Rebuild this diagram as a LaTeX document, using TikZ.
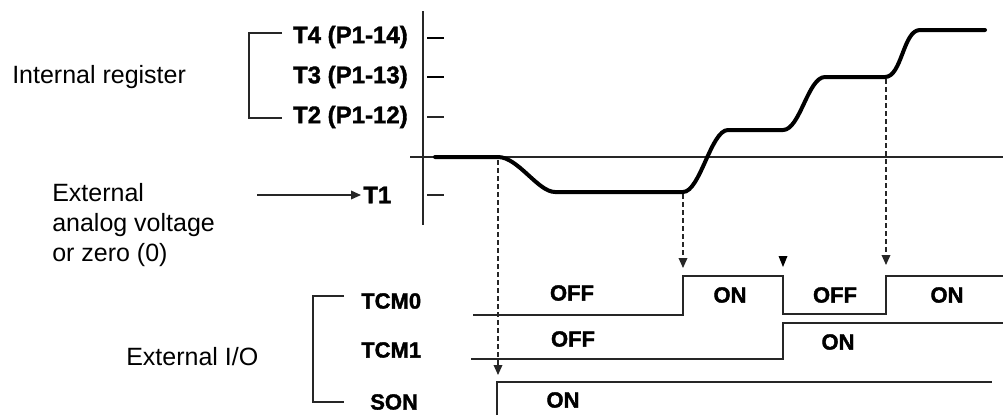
\documentclass[tikz,border=0pt]{standalone}
\usepackage{fontspec}
\setmainfont{Liberation Sans}
\newfontfamily\heavyfont{Liberation Sans Bold}[FakeBold=1.6]
\usetikzlibrary{arrows.meta}
\begin{document}
\begin{tikzpicture}[x=0.75pt,y=-0.75pt,
  thinline/.style={draw=black!85, line width=1.1pt},
  tickthick/.style={draw=black, line width=1.6pt},
  wave/.style={draw=black!85, line width=1.1pt},
  curve/.style={draw=black, line width=3pt, line join=round, line cap=round},
  dashline/.style={draw=black!85, line width=1pt, dash pattern=on 3.75pt off 2.25pt},
  tip/.style={-{Triangle[width=6.5pt,length=7.5pt]}},
  reg/.style={font=\fontsize{18.75}{22.5}\selectfont, inner sep=0pt},
  blab/.style={font=\fontsize{18}{20}\selectfont\heavyfont, inner sep=0pt},
  slab/.style={font=\fontsize{16.5}{18}\selectfont\heavyfont, inner sep=0pt},
]
\useasboundingbox (0,0) rectangle (1003,415);

% left texts
\node[reg, anchor=west] (intreg) at (12,77) {Internal register};
\node[reg, anchor=west, align=left] (extan) at (52,225) {External\\analog voltage\\or zero (0)};
\node[reg, anchor=west] (extio) at (126,357) {External I/O};

% register labels
\node[blab, anchor=east] (t4) at (408,37) {T4 (P1-14)};
\node[blab, anchor=east] (t3) at (408,77) {T3 (P1-13)};
\node[blab, anchor=east] (t2) at (408,117) {T2 (P1-12)};
\node[blab, anchor=west] (t1) at (363,195) {T1};

% upper bracket
\coordinate (ub1) at (282,33);
\coordinate (ub2) at (249,33);
\coordinate (ub3) at (249,118);
\coordinate (ub4) at (282,118);
\draw[thinline] (ub1) -- (ub2) -- (ub3) -- (ub4);

% arrow to T1
\coordinate (a1) at (257,195);
\draw[thinline, tip] (a1) -- ([xshift=-1.5pt]t1.west);

% axes
\coordinate (vtop) at (423,11);
\coordinate (vbot) at (423,225);
\coordinate (hl) at (410,157);
\coordinate (hr) at (1003,157);
\draw[thinline] (vtop) -- (vbot);
\draw[thinline] (hl) -- (hr);

% ticks
\draw[tickthick] (427,38) -- (444,38);
\draw[tickthick] (427,77) -- (444,77);
\draw[thinline] (427,117) -- (444,117);
\draw[thinline] (427,195) -- (444,195);

% torque curve
\draw[curve] (435,157) -- (498,157)
  .. controls (518,157) and (538,192) .. (555,192) -- (683,192)
  .. controls (700,192) and (711,130) .. (728,130) -- (783,130)
  .. controls (800,130) and (808,77) .. (825,77) -- (885,77)
  .. controls (902,77) and (903,30) .. (920,30) -- (985,30);

% dashed markers
\coordinate (d1a) at (498,160);
\coordinate (d1b) at (498,375);
\coordinate (d2a) at (683,194);
\coordinate (d2b) at (683,268);
\coordinate (d3a) at (886,79);
\coordinate (d3b) at (886,265);
\draw[dashline, tip] (d1a) -- (d1b);
\draw[dashline, tip] (d2a) -- (d2b);
\draw[dashline, tip] (d3a) -- (d3b);
\fill[black] (778.5,256) -- (787.5,256) -- (783,267) -- cycle;

% lower bracket
\coordinate (lb1) at (344,296);
\coordinate (lb2) at (313,296);
\coordinate (lb3) at (313,402);
\coordinate (lb4) at (344,402);
\draw[thinline] (lb1) -- (lb2) -- (lb3) -- (lb4);

\node[slab, anchor=west] (tcm0) at (361,301) {TCM0};
\node[slab, anchor=west] (tcm1) at (361,350) {TCM1};
\node[slab, anchor=west] (son) at (370,402) {SON};

% waveforms
\draw[wave] (473,315) -- (683,315) -- (683,276) -- (783,276) -- (783,314) -- (886,314) -- (886,276) -- (1003,276);
\draw[wave] (471,359) -- (783,359) -- (783,323) -- (1003,323);
\draw[wave] (497,415) -- (497,382) -- (992,382);

% state labels
\node[slab] (s1) at (572,293) {OFF};
\node[slab] (s2) at (730,295) {ON};
\node[slab] (s3) at (835,295) {OFF};
\node[slab] (s4) at (947,295) {ON};
\node[slab] (s5) at (573,339) {OFF};
\node[slab] (s6) at (838,342) {ON};
\node[slab] (s7) at (563,400) {ON};
\end{tikzpicture}
\end{document}
